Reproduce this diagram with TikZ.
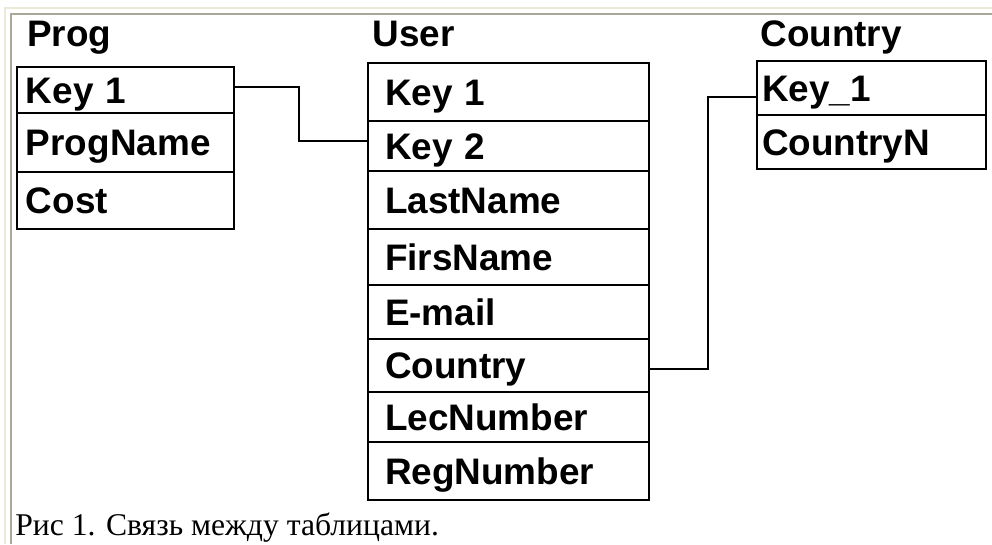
\documentclass[tikz,border=0pt]{standalone}
\usepackage{fontspec}
\setmainfont{Liberation Serif}
\setsansfont{Liberation Sans}
\usepackage{tikz}
\usetikzlibrary{calc,positioning}
\definecolor{framelight}{HTML}{ECE9D8}
\definecolor{framedark}{HTML}{ACA899}
\tikzset{
  field/.style={draw, rectangle, line width=1.1pt, anchor=north west, align=left,
    inner ysep=0pt, outer sep=0pt, text height=15pt, text depth=0pt,
    font=\sffamily\bfseries\fontsize{21}{25}\selectfont},
  progfield/.style={field, inner xsep=0.18cm, text width=3.98cm},
  userfield/.style={field, inner xsep=0.34cm, text width=4.94cm},
  countryfield/.style={field, inner xsep=0.1cm, text width=4.38cm},
  tabtitle/.style={anchor=base west, inner sep=0pt,
    font=\sffamily\bfseries\fontsize{21}{25}\selectfont},
  caption/.style={anchor=base west, inner sep=0pt, font=\fontsize{18}{21}\selectfont},
  link/.style={line width=1.1pt}
}

\begin{document}
\begin{tikzpicture}
            \useasboundingbox (0,0) rectangle (19.84,-10.88);
            \fill[white] (0,0) rectangle (19.84,-10.88);
            \draw[framelight, line width=0.04cm] (0.1,-10.88) -- (0.1,-0.16) -- (19.84,-0.16);
            \draw[framedark, line width=0.04cm] (0.22,-10.88) -- (0.22,-0.28) -- (19.84,-0.28);

            \node[tabtitle] (t_p) at (0.54,-0.92) {Prog};
            \node[tabtitle] (t_u) at (7.44,-0.92) {User};
            \node[tabtitle] (t_c) at (15.2,-0.92) {Country};

            \node[progfield, minimum height=0.92cm] (p_1) at (0.34,-1.34) {Key 1};
            \node[progfield, minimum height=1.18cm] (p_2) at (p_1.south west) {ProgName};
            \node[progfield, minimum height=1.14cm] (p_3) at (p_2.south west) {Cost};

            \node[userfield, minimum height=1.16cm] (u_1) at (7.36,-1.26) {Key 1};
            \node[userfield, minimum height=1.00cm] (u_2) at (u_1.south west) {Key 2};
            \node[userfield, minimum height=1.16cm] (u_3) at (u_2.south west) {LastName};
            \node[userfield, minimum height=1.12cm] (u_4) at (u_3.south west) {FirsName};
            \node[userfield, minimum height=1.08cm] (u_5) at (u_4.south west) {E-mail};
            \node[userfield, minimum height=1.06cm] (u_6) at (u_5.south west) {Country};
            \node[userfield, minimum height=1.00cm] (u_7) at (u_6.south west) {LecNumber};
            \node[userfield, minimum height=1.16cm] (u_8) at (u_7.south west) {RegNumber};

            \node[countryfield, minimum height=1.08cm] (c_1) at (15.14,-1.22) {Key\_1};
            \node[countryfield, minimum height=1.08cm] (c_2) at (c_1.south west) {CountryN};

            \draw[link] ([yshift=0.06cm]p_1.east) -- ++(1.3,0) |- ([yshift=0.1cm]u_2.west);
            \draw[link] ([yshift=-0.07cm]u_6.east) -- ++(1.18,0) |- ([yshift=-0.18cm]c_1.west);

            \node[caption] (cap) at (0.3,-10.7) {Рис 1. Связь между таблицами.};
\end{tikzpicture}
\end{document}
